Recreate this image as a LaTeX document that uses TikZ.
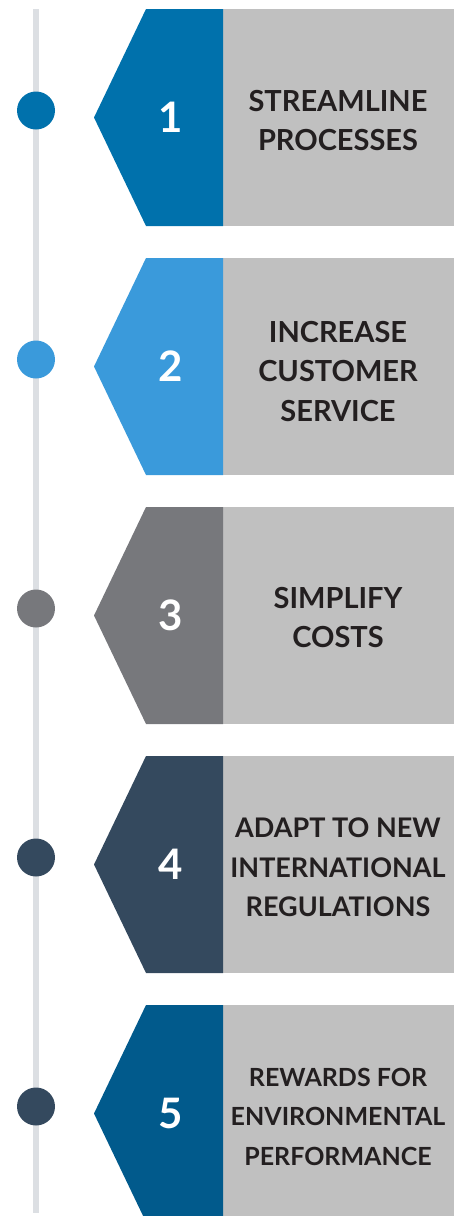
\documentclass[tikz,border=0pt]{standalone}
\usepackage{fontspec}
\setmainfont{Lato}
\definecolor{stepone}{HTML}{0071AC}
\definecolor{steptwo}{HTML}{3A9ADB}
\definecolor{stepthree}{HTML}{77787C}
\definecolor{stepfour}{HTML}{34495E}
\definecolor{stepfive}{HTML}{015A8C}
\definecolor{boxgray}{HTML}{C0C0C0}
\definecolor{railgray}{HTML}{DCDFE3}
\definecolor{textdark}{HTML}{231F20}
\tikzset{
	stepnum/.style={text=white,font=\bfseries\fontsize{42}{42}\selectfont,inner sep=0pt},
	steptext/.style={text=textdark,align=center,inner sep=0pt},
	stepdot/.style={circle,inner sep=0pt,minimum size=38pt},
}
\begin{document}
\begin{tikzpicture}[x=1pt,y=-1pt]
		\useasboundingbox (0,0) rectangle (459,1216);
		
		% timeline rail
		\coordinate (railtop) at (36,9);
		\coordinate (railbot) at (36,1213);
		\draw[railgray,line width=5.5pt] (railtop) -- (railbot);
		
		\foreach \i/\col/\dotcol/\fs/\dy/\txt in {
			1/stepone/stepone/29/3/{STREAMLINE\\PROCESSES},
			2/steptwo/steptwo/29/5/{INCREASE\\CUSTOMER\\SERVICE},
			3/stepthree/stepthree/29/2/{SIMPLIFY\\COSTS},
			4/stepfour/stepfour/27/3/{ADAPT TO NEW\\INTERNATIONAL\\REGULATIONS},
			5/stepfive/stepfour/25/3/{REWARDS FOR\\ENVIRONMENTAL\\PERFORMANCE}}
		{
			\pgfmathsetmacro\top{9+249*(\i-1)}
			\pgfmathsetmacro\bot{\top+217}
			\pgfmathsetmacro\mid{\top+108.5}
			
			% gray label box and coloured arrow head
			\fill[boxgray] (223,\top) rectangle (454,\bot);
			\fill[\col] (146,\top) -- (223,\top) -- (223,\bot) -- (146,\bot) -- (94,\mid) -- cycle;
			
			\node[stepdot,fill=\dotcol] (dot\i) at (36,\mid-7) {};
			\node[stepnum] (num\i) at (171,\mid) {\i};
			\node[steptext,font=\bfseries\fontsize{\fs}{39.5}\selectfont] (txt\i) at (338,\mid+\dy) {\txt};
		}
		
	\end{tikzpicture}
\end{document}
